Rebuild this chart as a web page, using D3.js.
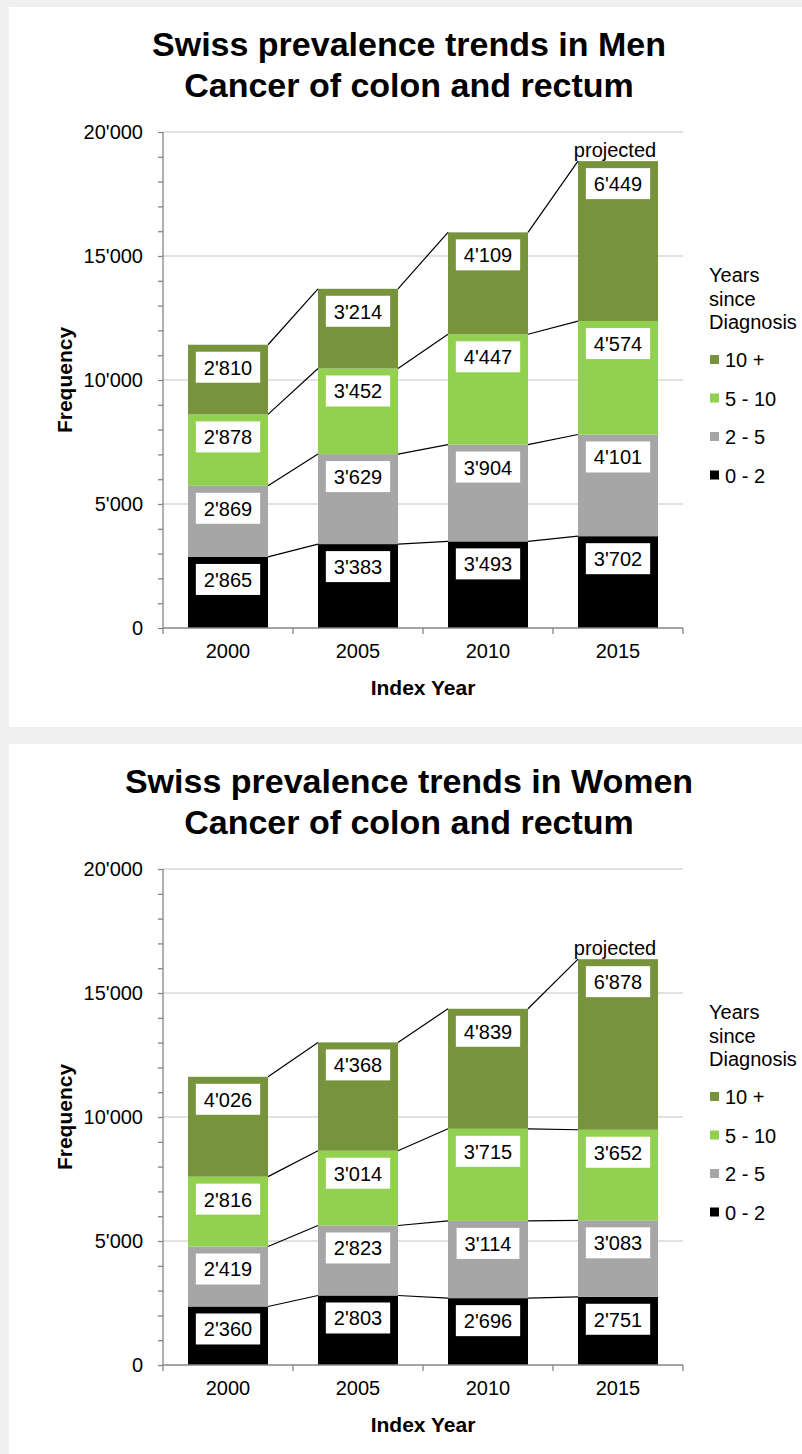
<!DOCTYPE html>
<html>
<head>
<meta charset="utf-8">
<script src="https://cdn.jsdelivr.net/npm/d3@7"></script>
<style>
  body { margin: 0; background: #f0f0f0; }
  svg { display: block; font-family: "Liberation Sans", Arial, sans-serif; }
</style>
</head>
<body>
<div id="chart"></div>
<script>
// categories
const years = ['2000', '2005', '2010', '2015'];
const seriesNames = ['0 - 2', '2 - 5', '5 - 10', '10 +'];
const legendTitle = ['Years', 'since', 'Diagnosis'];
const yTicks = [0, 5000, 10000, 15000, 20000];

// Men, per years since diagnosis
const men02 = [2865, 3383, 3493, 3702];
const men25 = [2869, 3629, 3904, 4101];
const men510 = [2878, 3452, 4447, 4574];
const men10 = [2810, 3214, 4109, 6449];

// Women, per years since diagnosis
const women02 = [2360, 2803, 2696, 2751];
const women25 = [2419, 2823, 3114, 3083];
const women510 = [2816, 3014, 3715, 3652];
const women10 = [4026, 4368, 4839, 6878];

const colors = ['#000000', '#a6a6a6', '#92d050', '#77933c'];

const W = 802, H = 1454;
const fmt = d3.formatLocale({ decimal: '.', thousands: "'", grouping: [3], currency: ['', ''] }).format(',');

const svg = d3.select('#chart')
  .append('svg')
  .attr('width', W)
  .attr('height', H);

svg.append('rect').attr('width', W).attr('height', H).attr('fill', '#f0f0f0');

const drawPanel = (top, title, layers) => {
  const g = svg.append('g').attr('transform', `translate(0,${top})`);

  // white panel
  g.append('rect')
    .attr('x', 9).attr('y', 0)
    .attr('width', W - 9).attr('height', 720)
    .attr('fill', '#fff');

  // local coords: panel top at -7 so numbers match the top chart
  const p = g.append('g').attr('transform', 'translate(0,-7)');

  p.selectAll('.title')
    .data(title)
    .enter()
    .append('text')
    .attr('x', 409)
    .attr('y', (d, i) => 56 + i * 41)
    .attr('text-anchor', 'middle')
    .style('font-size', '34px')
    .style('font-weight', 'bold')
    .text(d => d);

  const x = d3.scaleBand()
    .domain(years)
    .range([163, 683])
    .paddingInner(50 / 130)
    .paddingOuter(25 / 130);

  const y = d3.scaleLinear()
    .domain([0, 20000])
    .range([628, 132]);

  // gridlines
  p.selectAll('.grid')
    .data(yTicks.slice(1))
    .enter()
    .append('line')
    .attr('x1', 163).attr('x2', 683)
    .attr('y1', d => y(d)).attr('y2', d => y(d))
    .attr('stroke', '#d9d9d9')
    .attr('stroke-width', 1.3);

  // stack
  const rows = years.map((yr, i) => {
    const r = { year: yr };
    seriesNames.forEach((s, k) => { r[s] = layers[k][i]; });
    return r;
  });
  const stacked = d3.stack().keys(seriesNames)(rows);

  stacked.forEach((layer, k) => {
    p.append('g')
      .selectAll('rect')
      .data(layer)
      .enter()
      .append('rect')
      .attr('x', d => x(d.data.year))
      .attr('y', d => y(d[1]))
      .attr('width', x.bandwidth())
      .attr('height', d => y(d[0]) - y(d[1]))
      .attr('fill', colors[k]);
  });

  // connector lines between bar tops of each level
  stacked.forEach(layer => {
    for (let i = 0; i < layer.length - 1; i++) {
      p.append('line')
        .attr('x1', x(years[i]) + x.bandwidth())
        .attr('y1', y(layer[i][1]))
        .attr('x2', x(years[i + 1]))
        .attr('y2', y(layer[i + 1][1]))
        .attr('stroke', '#000')
        .attr('stroke-width', 1.2);
    }
  });

  // data labels
  stacked.forEach(layer => {
    layer.forEach(d => {
      const cx = x(d.data.year) + x.bandwidth() / 2;
      const top = y(d[1]) + 7;
      const lg = p.append('g');
      const box = lg.append('rect').attr('fill', '#fff');
      const t = lg.append('text')
        .attr('x', cx)
        .attr('y', top + 23)
        .attr('text-anchor', 'middle')
        .style('font-size', '20px')
        .text(fmt(d[1] - d[0]));
      const w = t.node().getComputedTextLength() + 16;
      box.attr('x', cx - w / 2).attr('y', top).attr('width', w).attr('height', 31);
    });
  });

  // "projected" over last bar
  const last = stacked[stacked.length - 1][years.length - 1];
  p.append('text')
    .attr('x', x(years[years.length - 1]) + x.bandwidth() / 2 - 3)
    .attr('y', y(last[1]) - 4)
    .attr('text-anchor', 'middle')
    .style('font-size', '20px')
    .text('projected');

  // y axis
  const yAxis = p.append('g')
    .attr('transform', 'translate(163,0)')
    .call(d3.axisLeft(y)
      .tickValues(d3.range(0, 20001, 1000))
      .tickSize(5)
      .tickPadding(15)
      .tickFormat(d => (d % 5000 === 0 ? fmt(d) : '')));
  yAxis.select('.domain').attr('stroke', '#868686').attr('stroke-width', 1.3).attr('d', 'M0,132V628');
  yAxis.selectAll('line').attr('stroke', '#868686').attr('stroke-width', 1.3);
  yAxis.selectAll('text').style('font-size', '20px').attr('fill', '#000').style('font-family', '"Liberation Sans", Arial, sans-serif');

  // x axis line and boundary ticks
  const step = x.step();
  const bounds = d3.range(years.length + 1).map(i => 163 + i * step);
  p.append('line')
    .attr('x1', 163).attr('x2', 683)
    .attr('y1', 628).attr('y2', 628)
    .attr('stroke', '#868686').attr('stroke-width', 1.3);
  p.selectAll('.xtick')
    .data(bounds)
    .enter()
    .append('line')
    .attr('x1', d => d).attr('x2', d => d)
    .attr('y1', 628).attr('y2', 634)
    .attr('stroke', '#868686').attr('stroke-width', 1.3);
  p.selectAll('.xlabel')
    .data(years)
    .enter()
    .append('text')
    .attr('x', d => x(d) + x.bandwidth() / 2)
    .attr('y', 658)
    .attr('text-anchor', 'middle')
    .style('font-size', '20px')
    .text(d => d);

  // axis titles
  p.append('text')
    .attr('x', 423).attr('y', 695)
    .attr('text-anchor', 'middle')
    .style('font-size', '21px')
    .style('font-weight', 'bold')
    .text('Index Year');
  p.append('text')
    .attr('transform', 'translate(72,380) rotate(-90)')
    .attr('text-anchor', 'middle')
    .style('font-size', '21px')
    .style('font-weight', 'bold')
    .text('Frequency');

  // legend
  p.selectAll('.ltitle')
    .data(legendTitle)
    .enter()
    .append('text')
    .attr('x', 709)
    .attr('y', (d, i) => 282 + i * 23.5)
    .style('font-size', '20px')
    .text(d => d);

  const legendOrder = seriesNames.slice().reverse();
  const items = p.selectAll('.litem')
    .data(legendOrder)
    .enter()
    .append('g')
    .attr('transform', (d, i) => `translate(710,${367 + i * 38.5})`);
  items.append('rect')
    .attr('x', 0).attr('y', -12)
    .attr('width', 9).attr('height', 9)
    .attr('fill', d => colors[seriesNames.indexOf(d)]);
  items.append('text')
    .attr('x', 15).attr('y', 0)
    .style('font-size', '20px')
    .text(d => d);
};

drawPanel(7, ['Swiss prevalence trends in Men', 'Cancer of colon and rectum'],
  [men02, men25, men510, men10]);
drawPanel(744, ['Swiss prevalence trends in Women', 'Cancer of colon and rectum'],
  [women02, women25, women510, women10]);
</script>
</body>
</html>
